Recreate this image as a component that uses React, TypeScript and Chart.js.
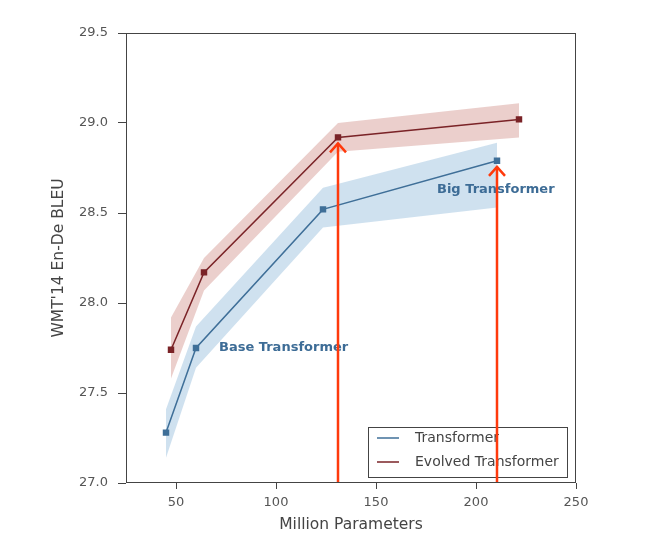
import React, { useEffect, useRef } from "react";
import { Chart, registerables } from "chart.js";

Chart.register(...registerables);

const transformerParams = [45, 60, 123.5, 210.5];
const transformerBleu = [27.28, 27.75, 28.52, 28.79];
const transformerLow = [27.14, 27.64, 28.42, 28.53];
const transformerHigh = [27.41, 27.87, 28.64, 28.89];

const evolvedParams = [47.5, 64, 131, 221.5];
const evolvedBleu = [27.74, 28.17, 28.92, 29.02];
const evolvedLow = [27.58, 28.07, 28.84, 28.92];
const evolvedHigh = [27.92, 28.25, 29.0, 29.11];

const xTicks = [50, 100, 150, 200, 250];
const yTicks = [27.0, 27.5, 28.0, 28.5, 29.0, 29.5];

const annotationTexts = ["Base Transformer", "Big Transformer"];
const annotationX = [71.5, 180.5];
const annotationY = [27.75, 28.63];

// arrows point at the evolved 131M point and the transformer 210.5M point
const arrowX = [evolvedParams[2], transformerParams[3]];
const arrowY = [evolvedBleu[2], transformerBleu[3]];

const seriesLabels = ["Transformer", "Evolved Transformer"];

const BLUE = "#3f6f98";
const RED = "#7a2327";
const BLUE_BAND = "rgba(110,165,205,0.33)";
const RED_BAND = "rgba(195,110,100,0.33)";
const ARROW = "#ff3a0c";
const FONT = "'DejaVu Sans', sans-serif";

const pts = (xs: number[], ys: number[]) => xs.map((x, i) => ({ x, y: ys[i] }));

const overlayPlugin = {
  id: "overlay",
  afterDatasetsDraw(chart: any) {
    const { ctx, chartArea, scales } = chart;
    const xs = scales.x;
    const ys = scales.y;
    ctx.save();
    // annotations
    ctx.font = `bold 13px ${FONT}`;
    ctx.fillStyle = "#3d6c96";
    ctx.textAlign = "left";
    ctx.textBaseline = "middle";
    annotationTexts.forEach((t, i) => {
      ctx.fillText(t, xs.getPixelForValue(annotationX[i]), ys.getPixelForValue(annotationY[i]));
    });
    // legend
    const lx = chartArea.right - 208;
    const ly = chartArea.bottom - 56;
    ctx.fillStyle = "rgba(255,255,255,0.85)";
    ctx.fillRect(lx, ly, 199, 50);
    ctx.strokeStyle = "#444";
    ctx.lineWidth = 1;
    ctx.strokeRect(Math.round(lx) + 0.5, Math.round(ly) + 0.5, 199, 50);
    const colors = [BLUE, RED];
    ctx.font = `14px ${FONT}`;
    seriesLabels.forEach((lab, i) => {
      const yy = ly + 11 + i * 24;
      ctx.strokeStyle = colors[i];
      ctx.lineWidth = 1.5;
      ctx.beginPath();
      ctx.moveTo(lx + 9, yy);
      ctx.lineTo(lx + 31, yy);
      ctx.stroke();
      ctx.fillStyle = "#444";
      ctx.textAlign = "left";
      ctx.textBaseline = "middle";
      ctx.fillText(lab, lx + 47, yy);
    });
    // arrows
    ctx.strokeStyle = ARROW;
    ctx.lineWidth = 2.5;
    ctx.lineCap = "butt";
    arrowX.forEach((ax, i) => {
      const px = xs.getPixelForValue(ax);
      const tip = ys.getPixelForValue(arrowY[i]) + 6;
      ctx.beginPath();
      ctx.moveTo(px, chartArea.bottom);
      ctx.lineTo(px, tip);
      ctx.stroke();
      ctx.beginPath();
      ctx.moveTo(px - 8, tip + 9);
      ctx.lineTo(px, tip);
      ctx.lineTo(px + 8, tip + 9);
      ctx.stroke();
    });
    // frame
    ctx.strokeStyle = "#444";
    ctx.lineWidth = 1;
    ctx.strokeRect(
      Math.round(chartArea.left) + 0.5,
      Math.round(chartArea.top) + 0.5,
      Math.round(chartArea.right - chartArea.left) - 1,
      Math.round(chartArea.bottom - chartArea.top) - 1
    );
    ctx.restore();
  },
};

export default function App() {
  const ref = useRef<HTMLCanvasElement | null>(null);
  useEffect(() => {
    if (!ref.current) return;
    const chart = new Chart(ref.current, {
      type: "line",
      data: {
        datasets: [
          {
            label: "t-low",
            data: pts(transformerParams, transformerLow),
            borderWidth: 0,
            pointRadius: 0,
            fill: false,
            order: 2,
          },
          {
            label: "t-high",
            data: pts(transformerParams, transformerHigh),
            borderWidth: 0,
            pointRadius: 0,
            backgroundColor: BLUE_BAND,
            fill: 0,
            order: 2,
          },
          {
            label: "e-low",
            data: pts(evolvedParams, evolvedLow),
            borderWidth: 0,
            pointRadius: 0,
            fill: false,
            order: 1,
          },
          {
            label: "e-high",
            data: pts(evolvedParams, evolvedHigh),
            borderWidth: 0,
            pointRadius: 0,
            backgroundColor: RED_BAND,
            fill: 2,
            order: 1,
          },
          {
            label: seriesLabels[0],
            data: pts(transformerParams, transformerBleu),
            borderColor: BLUE,
            backgroundColor: BLUE,
            borderWidth: 1.5,
            pointStyle: "rect",
            pointRadius: 3.5,
            fill: false,
            order: 0,
          },
          {
            label: seriesLabels[1],
            data: pts(evolvedParams, evolvedBleu),
            borderColor: RED,
            backgroundColor: RED,
            borderWidth: 1.5,
            pointStyle: "rect",
            pointRadius: 3.5,
            fill: false,
            order: 0,
          },
        ],
      },
      options: {
        responsive: false,
        animation: false,
        layout: { padding: { left: 0, top: 33, right: 85, bottom: 0 } },
        plugins: {
          legend: { display: false },
          tooltip: { enabled: false },
        },
        elements: { line: { tension: 0 } },
        scales: {
          x: {
            type: "linear",
            min: 25,
            max: 250,
            afterFit: (s: any) => {
              s.height = 73;
            },
            afterBuildTicks: (s: any) => {
              s.ticks = xTicks.map((v) => ({ value: v }));
            },
            grid: { display: true, drawOnChartArea: false, drawTicks: true, tickLength: 6, color: "#444" },
            border: { display: false },
            ticks: {
              color: "#555",
              font: { family: FONT, size: 13 },
              padding: 6,
              callback: (v: any) => String(v),
            },
            title: {
              display: true,
              text: "Million Parameters",
              color: "#444",
              font: { family: FONT, size: 15.5 },
              padding: { top: 0, bottom: 22 },
            },
          },
          y: {
            type: "linear",
            min: 27,
            max: 29.5,
            afterFit: (s: any) => {
              s.width = 126;
            },
            afterBuildTicks: (s: any) => {
              s.ticks = yTicks.map((v) => ({ value: v }));
            },
            grid: { display: true, drawOnChartArea: false, drawTicks: true, tickLength: 8, color: "#444" },
            border: { display: false },
            ticks: {
              color: "#555",
              font: { family: FONT, size: 13 },
              padding: 10,
              callback: (v: any) => Number(v).toFixed(1),
            },
            title: {
              display: true,
              text: "WMT'14 En-De BLEU",
              color: "#444",
              font: { family: FONT, size: 15.5 },
              padding: { top: 50, bottom: 0 },
            },
          },
        },
      },
      plugins: [overlayPlugin],
    });
    return () => chart.destroy();
  }, []);
  return (
    <canvas
      ref={ref}
      width={661}
      height={556}
      style={{ position: "absolute", left: 0, top: 0, width: 661, height: 556 }}
    />
  );
}
